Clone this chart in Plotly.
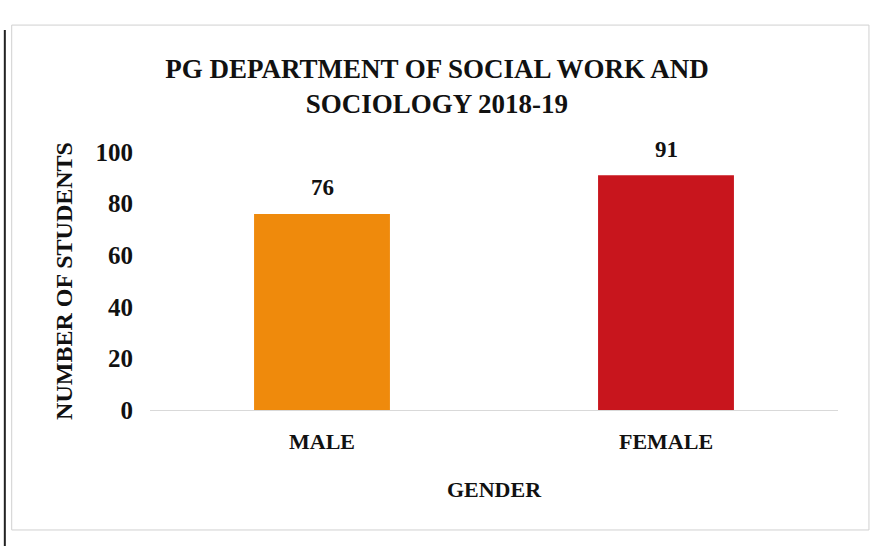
import plotly.graph_objects as go

generos = ["MALE", "FEMALE"]
estudiantes = [76, 91]
colores = ["#EF8A0C", "#C8151D"]
ticks_y = [0, 20, 40, 60, 80, 100]
titulo = ["PG DEPARTMENT OF SOCIAL WORK AND", "SOCIOLOGY 2018-19"]

FUENTE = "Liberation Serif, Times New Roman, serif"
NEGRO = "#111111"

fig = go.Figure()

fig.add_trace(go.Bar(
    x=generos,
    y=estudiantes,
    marker=dict(color=colores, line=dict(width=0)),
    width=0.395,
    hoverinfo="x+y",
))

# etiquetas de valor encima de cada barra
for g, v in zip(generos, estudiantes):
    fig.add_annotation(
        x=g, y=v, text=str(v), showarrow=False,
        yanchor="middle", yshift=26,
        font=dict(family=FUENTE, size=23, color=NEGRO, weight="bold"),
    )

fig.update_layout(
    width=875,
    height=546,
    paper_bgcolor="white",
    plot_bgcolor="white",
    margin=dict(l=150, r=37, t=152, b=136),
    showlegend=False,
    font=dict(family=FUENTE, color=NEGRO),
    title=dict(
        text="<br>".join(titulo),
        x=0.4994,
        xanchor="center",
        y=0.857,
        yanchor="middle",
        font=dict(family=FUENTE, size=27, color=NEGRO, weight="bold"),
    ),
    xaxis=dict(
        title=dict(text="GENDER", standoff=28,
                   font=dict(family=FUENTE, size=22, color=NEGRO, weight="bold")),
        tickfont=dict(family=FUENTE, size=22, color=NEGRO, weight="bold"),
        ticklabelstandoff=16,
        showline=False,
        showgrid=False,
        ticks="",
    ),
    yaxis=dict(
        title=dict(text="NUMBER OF STUDENTS", standoff=16,
                   font=dict(family=FUENTE, size=24, color=NEGRO, weight="bold")),
        range=[0, 100],
        tickvals=ticks_y,
        tickfont=dict(family=FUENTE, size=25, color=NEGRO, weight="bold"),
        ticklabelstandoff=16,
        showgrid=False,
        zeroline=True,
        zerolinecolor="#d9d9d9",
        zerolinewidth=1,
        ticks="",
    ),
    shapes=[
        dict(type="rect", xref="paper", yref="paper",
             x0=-0.201, x1=1.045, y0=-0.465, y1=1.492,
             line=dict(color="#d0d0d0", width=1)),
        dict(type="line", xref="paper", yref="paper",
             x0=-0.211, x1=-0.211, y0=-0.53, y1=1.473,
             line=dict(color="#222222", width=2)),
    ],
)

fig.write_html("out.html", config={"displayModeBar": False},
               post_script="document.body.style.margin='0px';")
